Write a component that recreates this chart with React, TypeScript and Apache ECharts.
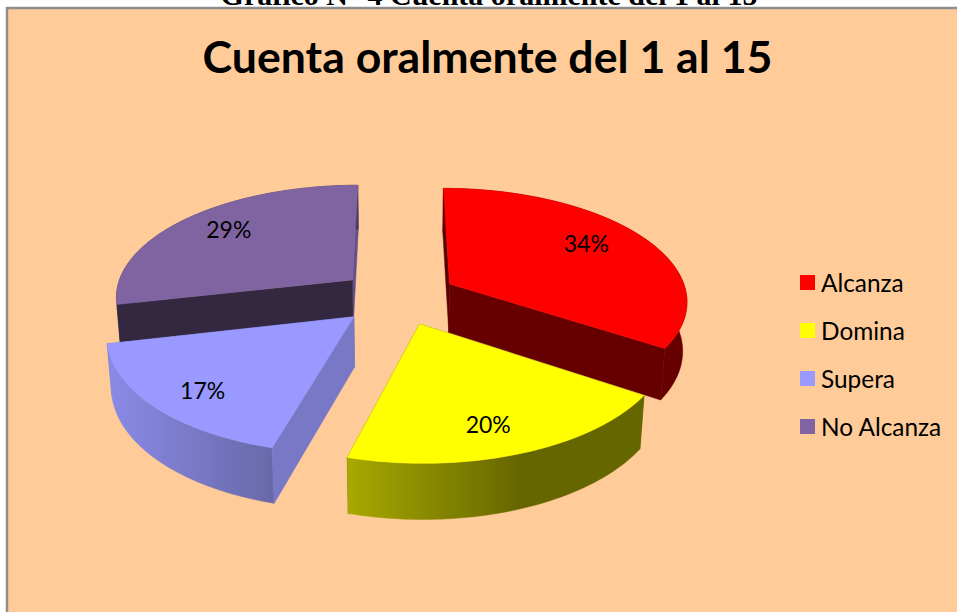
import React, { useEffect, useRef } from "react";
import * as echarts from "echarts";

const categories = ["Alcanza", "Domina", "Supera", "No Alcanza"];
const values = [12, 7, 6, 10];
const percentLabels = ["34%", "20%", "17%", "29%"];
const topColors = ["#FF0000", "#FFFF00", "#9999FF", "#8064A2"];
const titleText = "Cuenta oralmente del 1 al 15";
const captionText = "Gráfico N° 4 Cuenta oralmente del 1 al 15";

// Projection of the tilted pie plane onto the screen
const CX = 398;
const CY = 297;
const RX = 238;
const RY = 112;
const PERSP = 0.137;
const EXPLODE = 0.25;
const DEPTH = 50;
const DEPTH_PERSP = 0.015;
const LABEL_R = 0.78;

const total = values.reduce((a, b) => a + b, 0);

function project(u: number, v: number, low: boolean): number[] {
  const d = 1 - PERSP * v + (low ? DEPTH_PERSP : 0);
  return [CX + (RX * u) / d, CY + (RY * v + (low ? DEPTH : 0)) / d];
}

function sliceAngles(i: number) {
  let before = 0;
  for (let k = 0; k < i; k++) before += values[k];
  const a0 = (before / total) * Math.PI * 2;
  const a1 = ((before + values[i]) / total) * Math.PI * 2;
  return [a0, a1];
}

function dark(i: number) {
  const grad = (x: number, x2: number, c0: string, c1: string) =>
    new echarts.graphic.LinearGradient(
      x, 0, x2, 0,
      [{ offset: 0, color: c0 }, { offset: 1, color: c1 }],
      true
    );
  return [
    { arc: "#660000", start: "#5A0000", end: "#660000", nudge: [-14, -3] },
    { arc: grad(348, 520, "#A8A800", "#666600"), start: "#666600", end: "#666600", nudge: [-9, 3] },
    { arc: grad(110, 275, "#8A8AE6", "#6868A8"), start: "#7878C6", end: "#7878C6", nudge: [1, 5] },
    { arc: "#4C3C61", start: "#332840", end: "#64508A", nudge: [7, -2] },
  ][i];
}

function renderSlice(i: number) {
  return () => {
    const [a0, a1] = sliceAngles(i);
    const mid = (a0 + a1) / 2;
    const ox = EXPLODE * Math.sin(mid);
    const oy = -EXPLODE * Math.cos(mid);
    const rim = (a: number, r: number, low: boolean) =>
      project(ox + r * Math.sin(a), oy - r * Math.cos(a), low);
    const steps = 60;
    const arcTop: number[][] = [];
    const arcLow: number[][] = [];
    for (let s = 0; s <= steps; s++) {
      const a = a0 + ((a1 - a0) * s) / steps;
      arcTop.push(rim(a, 1, false));
      arcLow.push(rim(a, 1, true));
    }
    const apexTop = rim(0, 0, false);
    const apexLow = rim(0, 0, true);
    const shades = dark(i);
    const poly = (points: number[][], fill: any) => ({
      type: "polygon",
      shape: { points },
      style: { fill, stroke: fill, lineWidth: 0.5 },
    });
    const startWall = poly([apexTop, arcTop[0], arcLow[0], apexLow], shades.start);
    const endWall = poly([apexTop, arcTop[steps], arcLow[steps], apexLow], shades.end);
    const arcWall = poly([...arcTop, ...arcLow.slice().reverse()], shades.arc);
    const startFront = Math.sin(a0) < -1e-6;
    const endFront = Math.sin(a1) > 1e-6;
    const labelPos = rim(mid, LABEL_R, false);
    return {
      type: "group",
      children: [
        ...(startFront ? [] : [startWall]),
        ...(endFront ? [] : [endWall]),
        arcWall,
        ...(startFront ? [startWall] : []),
        ...(endFront ? [endWall] : []),
        poly([apexTop, ...arcTop], topColors[i]),
        {
          type: "text",
          x: labelPos[0] + shades.nudge[0],
          y: labelPos[1] + shades.nudge[1],
          style: {
            text: percentLabels[i],
            fill: "#000000",
            font: "23px Lato",
            align: "center",
            verticalAlign: "middle",
          },
        },
      ],
    };
  };
}

const paintOrder = [3, 0, 2, 1];

export default function App() {
  const ref = useRef<HTMLDivElement>(null);
  useEffect(() => {
    const chart = echarts.init(ref.current!, null, { renderer: "svg" });
    chart.setOption({
      animation: false,
      backgroundColor: "#FFFFFF",
      title: {
        text: titleText,
        left: 482.5,
        top: 28,
        textAlign: "center",
        textStyle: { fontFamily: "Lato", fontWeight: "bold", fontSize: 44.6, color: "#000" },
      },
      legend: {
        orient: "vertical",
        left: 795,
        top: 265,
        icon: "rect",
        itemWidth: 15,
        itemHeight: 15,
        itemGap: 23,
        data: categories.map((name, i) => ({ name, itemStyle: { color: topColors[i] } })),
        textStyle: { fontFamily: "Lato", fontSize: 24.4, lineHeight: 25, color: "#000", padding: [0, 0, 0, 1] },
      },
      graphic: [
        {
          type: "rect",
          z: 0,
          shape: { x: 7, y: 8, width: 960, height: 620 },
          style: { fill: "#FFCC99", stroke: "#8E8E8E", lineWidth: 2.5 },
        },
        {
          type: "text",
          z: 0,
          x: 489,
          y: 9,
          style: {
            text: captionText,
            font: "bold 30px 'Liberation Serif'",
            fill: "#000",
            align: "center",
            verticalAlign: "bottom",
          },
        },
      ],
      series: paintOrder.map((i) => ({
        type: "custom",
        name: categories[i],
        coordinateSystem: "none",
        data: [values[i]],
        itemStyle: { color: topColors[i] },
        renderItem: renderSlice(i),
        silent: true,
      })),
    });
    return () => chart.dispose();
  }, []);
  return <div ref={ref} style={{ position: "fixed", left: 0, top: 0, width: 957, height: 612 }} />;
}
